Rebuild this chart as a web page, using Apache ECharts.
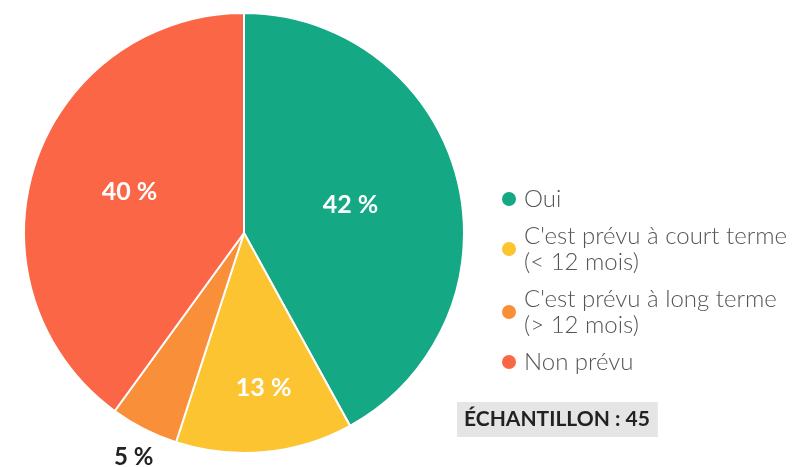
<!DOCTYPE html>
<html>
<head>
<meta charset="utf-8">
<script src="https://cdn.jsdelivr.net/npm/echarts@6/dist/echarts.min.js"></script>
<style>
  html, body { margin: 0; padding: 0; background: #ffffff; }
  #chart { width: 798px; height: 467px; }
</style>
</head>
<body>
<div id="chart"></div>
<script>
// Réponses à la question, en pourcentage de l'échantillon
var categories = [
  'Oui',
  "C'est prévu à court terme\n(< 12 mois)",
  "C'est prévu à long terme\n(> 12 mois)",
  'Non prévu'
];
var values = [42, 13, 5, 40];
var colors = ['#14a884', '#fdc431', '#fa8f3a', '#fb6647'];
var sampleLabel = 'ÉCHANTILLON : 45';

var FONT = 'Lato, "Open Sans", sans-serif';

// Décalages des étiquettes par rapport à leur position au centre des parts
var labelShift = [
  { dx: -3, dy: 0 },
  { dx: 9, dy: 42 },
  { dx: -59, dy: 124 },
  { dx: -7, dy: -6 }
];

var data = categories.map(function (name, i) {
  var item = { name: name, value: values[i], itemStyle: { color: colors[i] } };
  if (i === 2) {
    item.label = { color: '#222222', fontSize: 24 };
  }
  return item;
});

var chart = echarts.init(document.getElementById('chart'), null, { renderer: 'canvas' });

chart.setOption({
  backgroundColor: '#ffffff',
  animation: false,
  title: {
    text: sampleLabel,
    left: 457,
    top: 402,
    padding: [7, 8, 7, 7],
    backgroundColor: '#e5e5e5',
    textStyle: {
      fontFamily: FONT,
      fontSize: 21,
      fontWeight: 'bold',
      color: '#222222'
    }
  },
  legend: {
    orient: 'vertical',
    left: 495,
    top: 181,
    icon: 'circle',
    itemWidth: 16,
    itemHeight: 16,
    itemGap: 11,
    selectedMode: false,
    data: categories,
    textStyle: {
      fontFamily: FONT,
      fontSize: 24,
      fontWeight: 300,
      lineHeight: 26,
      color: '#555555',
      padding: [0, 0, 0, 2]
    }
  },
  series: [{
    type: 'pie',
    center: [244, 233],
    radius: 220,
    startAngle: 90,
    clockwise: true,
    avoidLabelOverlap: false,
    itemStyle: { borderColor: '#ffffff', borderWidth: 2 },
    label: {
      show: true,
      position: 'inside',
      formatter: '{c} %',
      fontFamily: FONT,
      fontSize: 25,
      fontWeight: 'bold',
      color: '#ffffff'
    },
    labelLine: { show: false },
    labelLayout: function (params) {
      return labelShift[params.dataIndex];
    },
    emphasis: { disabled: true },
    data: data
  }]
});
</script>
</body>
</html>
